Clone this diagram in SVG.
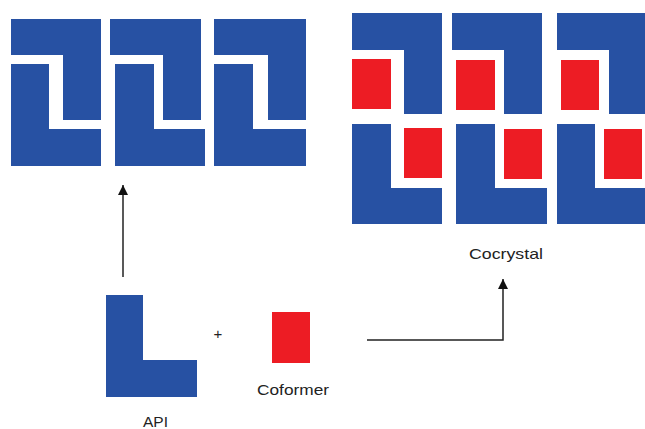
<svg xmlns="http://www.w3.org/2000/svg" width="645" height="429" viewBox="0 0 645 429">
<style>
.api{fill:#2751a3}
.cof{fill:#ed1c24}
.lbl{font-family:"Liberation Sans",Arial,sans-serif;font-size:15px;fill:#222}
.conn{fill:none;stroke:#222;stroke-width:1.5}
</style>
<defs>
<marker id="arr" viewBox="0 0 10 10" refX="10" refY="5" markerWidth="10" markerHeight="11" markerUnits="userSpaceOnUse" orient="auto">
<path d="M0,0 L10,5 L0,10 Z" fill="#111"/>
</marker>
</defs>
<g id="api-crystal">
<path class="api" d="M11,19 H101 V120 H63 V55 H11 Z"/>
<path class="api" d="M11,64 H49 V129 H101 V166 H11 Z"/>
<path class="api" d="M110,19 H201 V120 H163 V55 H110 Z"/>
<path class="api" d="M115,64 H154 V129 H205 V166 H115 Z"/>
<path class="api" d="M214,19 H306 V120 H268 V55 H214 Z"/>
<path class="api" d="M214,64 H253 V129 H306 V166 H214 Z"/>
</g>
<g id="cocrystal">
<path class="api" d="M352,13 H442 V114 H404 V50 H352 Z"/>
<rect class="cof" x="352" y="59" width="39" height="50"/>
<path class="api" d="M352,124 H391 V188 H442 V224 H352 Z"/>
<rect class="cof" x="404" y="128" width="38" height="50"/>
<path class="api" d="M452,13 H542 V114 H504 V50 H452 Z"/>
<rect class="cof" x="456" y="60" width="39" height="50"/>
<path class="api" d="M456,124 H495 V188 H547 V224 H456 Z"/>
<rect class="cof" x="504" y="129" width="38" height="50"/>
<path class="api" d="M557,13 H645 V114 H609 V50 H557 Z"/>
<rect class="cof" x="561" y="60" width="38" height="50"/>
<path class="api" d="M557,124 H595 V188 H645 V224 H557 Z"/>
<rect class="cof" x="604" y="129" width="38" height="50"/>
<text class="lbl" x="469" y="259" textLength="74" lengthAdjust="spacingAndGlyphs">Cocrystal</text>
</g>
<g id="api">
<path class="api" d="M106,295 H143 V360 H197 V397 H106 Z"/>
<text class="lbl" x="143" y="426.5" textLength="25" lengthAdjust="spacingAndGlyphs">API</text>
</g>
<g id="plus">
<text class="lbl" x="218" y="338.5" text-anchor="middle">+</text>
</g>
<g id="coformer">
<rect class="cof" x="272" y="312" width="38" height="51"/>
<text class="lbl" x="257" y="395" textLength="72" lengthAdjust="spacingAndGlyphs">Coformer</text>
</g>
<g id="connectors">
<path class="conn" d="M123,277 V185" marker-end="url(#arr)"/>
<path class="conn" d="M367,340 H503 V279" marker-end="url(#arr)"/>
</g>
</svg>
